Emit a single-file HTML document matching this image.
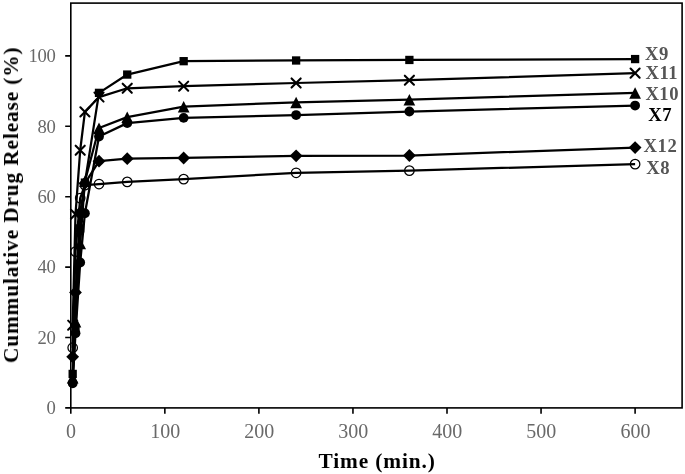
<!DOCTYPE html>
<html lang="en"><head><meta charset="utf-8"><title>Cummulative Drug Release</title>
<style>
html,body{margin:0;padding:0;background:#fff;}
body{width:685px;height:474px;overflow:hidden;}
svg{display:block;}
text{font-family:"Liberation Serif","Times New Roman",Times,serif;}
.tk{fill:#696969;}
.lb{font-weight:bold;fill:#555;}
.ti{font-weight:bold;fill:#000;}
</style></head><body>
<svg width="685" height="474" viewBox="0 0 685 474">
<defs><filter id="noop" x="0" y="0" width="685" height="474" filterUnits="userSpaceOnUse" color-interpolation-filters="sRGB"><feOffset dx="0" dy="0"/></filter></defs>
<rect x="0" y="0" width="685" height="474" fill="#fff"/>
<rect x="70.8" y="3.1" width="611.30" height="404.80" fill="none" stroke="#000" stroke-width="1.6"/>
<path d="M65.20 407.90H70.80M65.20 337.50H70.80M65.20 267.10H70.80M65.20 196.70H70.80M65.20 126.30H70.80M65.20 55.90H70.80M70.80 407.90V413.80M164.85 407.90V413.80M258.90 407.90V413.80M352.95 407.90V413.80M447.00 407.90V413.80M541.05 407.90V413.80M635.10 407.90V413.80" stroke="#000" stroke-width="1.6" fill="none"/>
<g filter="url(#noop)">
<text class="tk" x="55.5" y="414.15" font-size="18.67" letter-spacing="-0.33" text-anchor="end">0</text>
<text class="tk" x="55.5" y="343.75" font-size="18.67" letter-spacing="-0.33" text-anchor="end">20</text>
<text class="tk" x="55.5" y="273.35" font-size="18.67" letter-spacing="-0.33" text-anchor="end">40</text>
<text class="tk" x="55.5" y="202.95" font-size="18.67" letter-spacing="-0.33" text-anchor="end">60</text>
<text class="tk" x="55.5" y="132.55" font-size="18.67" letter-spacing="-0.33" text-anchor="end">80</text>
<text class="tk" x="55.5" y="62.15" font-size="18.67" letter-spacing="-0.33" text-anchor="end">100</text>
<text class="tk" x="71.10" y="437.8" font-size="20" text-anchor="middle">0</text>
<text class="tk" x="165.15" y="437.8" font-size="20" text-anchor="middle">100</text>
<text class="tk" x="259.20" y="437.8" font-size="20" text-anchor="middle">200</text>
<text class="tk" x="353.25" y="437.8" font-size="20" text-anchor="middle">300</text>
<text class="tk" x="447.30" y="437.8" font-size="20" text-anchor="middle">400</text>
<text class="tk" x="541.35" y="437.8" font-size="20" text-anchor="middle">500</text>
<text class="tk" x="635.40" y="437.8" font-size="20" text-anchor="middle">600</text>
</g>
<polyline points="72.68,373.93 75.50,328.35 80.20,228.38 84.91,182.62 99.02,92.86 127.23,74.56 183.66,61.18 296.12,60.48 409.38,59.95 635.10,59.07" fill="none" stroke="#000" stroke-width="2.25" stroke-linejoin="round"/>
<polyline points="72.68,325.18 75.50,214.30 80.20,150.24 84.91,111.87 99.02,97.08 127.23,88.28 183.66,86.17 296.12,83.00 409.38,80.19 635.10,73.15" fill="none" stroke="#000" stroke-width="2.25" stroke-linejoin="round"/>
<polyline points="72.68,377.63 75.50,321.66 80.20,243.52 84.91,181.21 99.02,128.06 127.23,117.15 183.66,106.59 296.12,102.36 409.38,99.55 635.10,92.86" fill="none" stroke="#000" stroke-width="2.25" stroke-linejoin="round"/>
<polyline points="72.68,383.26 75.50,333.28 80.20,262.52 84.91,213.24 99.02,136.51 127.23,123.13 183.66,117.85 296.12,115.04 409.38,111.52 635.10,105.53" fill="none" stroke="#000" stroke-width="2.25" stroke-linejoin="round"/>
<polyline points="72.68,356.86 75.50,292.44 80.20,212.54 84.91,183.32 99.02,161.15 127.23,158.68 183.66,157.98 296.12,155.87 409.38,155.52 635.10,147.56" fill="none" stroke="#000" stroke-width="2.25" stroke-linejoin="round"/>
<polyline points="72.68,347.71 75.50,251.61 80.20,198.11 84.91,185.08 99.02,184.03 127.23,181.92 183.66,179.10 296.12,172.76 409.38,170.65 635.10,164.14" fill="none" stroke="#000" stroke-width="2.25" stroke-linejoin="round"/>
<g fill="#000"><rect x="68.53" y="369.78" width="8.3" height="8.3"/><rect x="71.35" y="324.20" width="8.3" height="8.3"/><rect x="76.05" y="224.23" width="8.3" height="8.3"/><rect x="80.76" y="178.47" width="8.3" height="8.3"/><rect x="94.86" y="88.71" width="8.3" height="8.3"/><rect x="123.08" y="70.41" width="8.3" height="8.3"/><rect x="179.51" y="57.03" width="8.3" height="8.3"/><rect x="291.97" y="56.33" width="8.3" height="8.3"/><rect x="405.23" y="55.80" width="8.3" height="8.3"/><rect x="630.95" y="54.92" width="8.3" height="8.3"/></g>
<g fill="#000"><path d="M68.13 320.63L77.23 329.73M68.13 329.73L77.23 320.63" stroke="#000" stroke-width="2.1" stroke-linecap="round" fill="none"/><path d="M70.95 209.75L80.05 218.85M70.95 218.85L80.05 209.75" stroke="#000" stroke-width="2.1" stroke-linecap="round" fill="none"/><path d="M75.66 145.69L84.75 154.79M75.66 154.79L84.75 145.69" stroke="#000" stroke-width="2.1" stroke-linecap="round" fill="none"/><path d="M80.36 107.32L89.46 116.42M80.36 116.42L89.46 107.32" stroke="#000" stroke-width="2.1" stroke-linecap="round" fill="none"/><path d="M94.47 92.53L103.56 101.63M94.47 101.63L103.56 92.53" stroke="#000" stroke-width="2.1" stroke-linecap="round" fill="none"/><path d="M122.68 83.73L131.78 92.83M122.68 92.83L131.78 83.73" stroke="#000" stroke-width="2.1" stroke-linecap="round" fill="none"/><path d="M179.11 81.62L188.21 90.72M179.11 90.72L188.21 81.62" stroke="#000" stroke-width="2.1" stroke-linecap="round" fill="none"/><path d="M291.57 78.45L300.67 87.55M291.57 87.55L300.67 78.45" stroke="#000" stroke-width="2.1" stroke-linecap="round" fill="none"/><path d="M404.83 75.64L413.93 84.74M404.83 84.74L413.93 75.64" stroke="#000" stroke-width="2.1" stroke-linecap="round" fill="none"/><path d="M630.55 68.60L639.65 77.70M630.55 77.70L639.65 68.60" stroke="#000" stroke-width="2.1" stroke-linecap="round" fill="none"/></g>
<g fill="#000"><path d="M72.68 372.03L78.53 383.48L66.83 383.48Z"/><path d="M75.50 316.06L81.35 327.51L69.65 327.51Z"/><path d="M80.20 237.92L86.05 249.37L74.36 249.37Z"/><path d="M84.91 175.61L90.76 187.06L79.06 187.06Z"/><path d="M99.02 122.46L104.86 133.91L93.17 133.91Z"/><path d="M127.23 111.55L133.08 123.00L121.38 123.00Z"/><path d="M183.66 100.99L189.51 112.44L177.81 112.44Z"/><path d="M296.12 96.76L301.97 108.21L290.27 108.21Z"/><path d="M409.38 93.95L415.23 105.40L403.53 105.40Z"/><path d="M635.10 87.26L640.95 98.71L629.25 98.71Z"/></g>
<g fill="#000"><circle cx="72.68" cy="383.26" r="4.9"/><circle cx="75.50" cy="333.28" r="4.9"/><circle cx="80.20" cy="262.52" r="4.9"/><circle cx="84.91" cy="213.24" r="4.9"/><circle cx="99.02" cy="136.51" r="4.9"/><circle cx="127.23" cy="123.13" r="4.9"/><circle cx="183.66" cy="117.85" r="4.9"/><circle cx="296.12" cy="115.04" r="4.9"/><circle cx="409.38" cy="111.52" r="4.9"/><circle cx="635.10" cy="105.53" r="4.9"/></g>
<g fill="#000"><path d="M72.68 350.46L79.08 356.86L72.68 363.26L66.28 356.86Z"/><path d="M75.50 286.04L81.90 292.44L75.50 298.84L69.10 292.44Z"/><path d="M80.20 206.14L86.61 212.54L80.20 218.94L73.80 212.54Z"/><path d="M84.91 176.92L91.31 183.32L84.91 189.72L78.51 183.32Z"/><path d="M99.02 154.75L105.42 161.15L99.02 167.55L92.61 161.15Z"/><path d="M127.23 152.28L133.63 158.68L127.23 165.08L120.83 158.68Z"/><path d="M183.66 151.58L190.06 157.98L183.66 164.38L177.26 157.98Z"/><path d="M296.12 149.47L302.52 155.87L296.12 162.27L289.72 155.87Z"/><path d="M409.38 149.12L415.78 155.52L409.38 161.92L402.98 155.52Z"/><path d="M635.10 141.16L641.50 147.56L635.10 153.96L628.70 147.56Z"/></g>
<g fill="#000"><circle cx="72.68" cy="347.71" r="4.75" fill="none" stroke="#000" stroke-width="1.25"/><circle cx="75.50" cy="251.61" r="4.75" fill="none" stroke="#000" stroke-width="1.25"/><circle cx="80.20" cy="198.11" r="4.75" fill="none" stroke="#000" stroke-width="1.25"/><circle cx="84.91" cy="185.08" r="4.75" fill="none" stroke="#000" stroke-width="1.25"/><circle cx="99.02" cy="184.03" r="4.75" fill="none" stroke="#000" stroke-width="1.25"/><circle cx="127.23" cy="181.92" r="4.75" fill="none" stroke="#000" stroke-width="1.25"/><circle cx="183.66" cy="179.10" r="4.75" fill="none" stroke="#000" stroke-width="1.25"/><circle cx="296.12" cy="172.76" r="4.75" fill="none" stroke="#000" stroke-width="1.25"/><circle cx="409.38" cy="170.65" r="4.75" fill="none" stroke="#000" stroke-width="1.25"/><circle cx="635.10" cy="164.14" r="4.75" fill="none" stroke="#000" stroke-width="1.25"/></g>
<g filter="url(#noop)">
<text class="lb" x="645.0" y="59.8" font-size="18.67" letter-spacing="0.5" style="fill:#555">X9</text>
<text class="lb" x="645.6" y="79.2" font-size="18.67" letter-spacing="0.5" style="fill:#555">X11</text>
<text class="lb" x="645.4" y="99.5" font-size="18.67" letter-spacing="0.5" style="fill:#555">X10</text>
<text class="lb" x="648.2" y="120.9" font-size="18.67" letter-spacing="0.5" style="fill:#000">X7</text>
<text class="lb" x="643.6" y="151.7" font-size="18.67" letter-spacing="0.5" style="fill:#555">X12</text>
<text class="lb" x="646.2" y="174.1" font-size="18.67" letter-spacing="0.5" style="fill:#555">X8</text>
<text class="ti" x="376.75" y="467.5" font-size="21.33" text-anchor="middle" textLength="116.4" lengthAdjust="spacing">Time (min.)</text>
<text class="ti" transform="translate(18.0 205.3) rotate(-90)" font-size="21.33" text-anchor="middle" textLength="315.6" lengthAdjust="spacing">Cummulative Drug Release (%)</text>
</g>
</svg></body></html>
